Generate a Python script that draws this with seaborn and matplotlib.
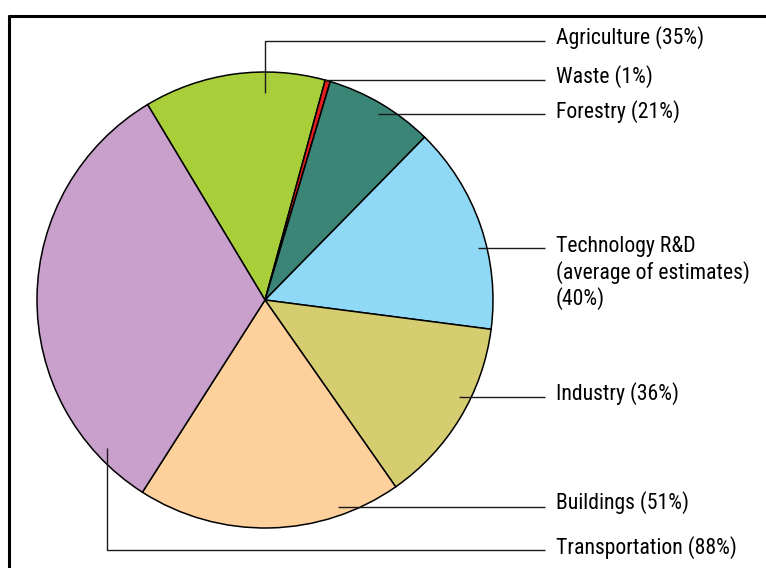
import matplotlib
matplotlib.use("Agg")
import matplotlib.pyplot as plt
import seaborn as sns
import numpy as np

# Funding shares by sector (percent of total estimate)
sectors = ["Agriculture", "Waste", "Forestry", "Technology R&D\n(average of estimates)",
           "Industry", "Buildings", "Transportation"]
shares = [35, 1, 21, 40, 36, 51, 88]
colors = ["#a8cf3a", "#e41e1e", "#3b8577", "#8fd9f6", "#d5cd70", "#fdd09c", "#c8a0cb"]

sns.set_style("white")
plt.rcParams["font.family"] = ["Roboto Condensed", "Archivo Narrow", "DejaVu Sans"]

W, H = 766, 568
fig = plt.figure(figsize=(W / 100, H / 100), dpi=100)
ax = fig.add_axes([0, 0, 1, 1])


def py(y):
    """Convert a top-down pixel row into data y."""
    return H - y


cx, cy, R = 265, py(300), 228
ax.pie(shares, colors=colors, startangle=121, counterclock=False,
       center=(cx, cy), radius=R, frame=True,
       wedgeprops=dict(edgecolor="black", linewidth=1.1))
ax.set_xlim(0, W)
ax.set_ylim(0, H)
ax.set_aspect("auto")
ax.axis("off")

# Leader anchors: angle (deg) and fraction of radius inside each wedge
anchor_angle = [90, 75, 58.7, 13.7, -26.7, -70.6, 223.2]
anchor_frac = [0.91, 0.99, 0.955, 0.96, 0.95, 0.96, 0.95]
line_rows = [41, 80, 114, 248, 397, 507, 550]
text_rows = [38, 77, 112, 273, 394, 503, 548]
line_end_x = 545
text_x = 556

for name, val, ang, frac, ly, ty in zip(sectors, shares, anchor_angle, anchor_frac,
                                        line_rows, text_rows):
    ax0 = cx + frac * R * np.cos(np.radians(ang))
    ay0 = cy + frac * R * np.sin(np.radians(ang))
    if abs(ay0 - py(ly)) > 4:
        xs = [ax0, ax0, line_end_x]
        ys = [ay0, py(ly), py(ly)]
    else:
        xs = [ax0, line_end_x]
        ys = [py(ly), py(ly)]
    ax.plot(xs, ys, color="#1a1a1a", linewidth=1.0, solid_capstyle="butt")
    label = f"{name}\n({val}%)" if "\n" in name else f"{name} ({val}%)"
    ax.text(text_x, py(ty), label, fontsize=15.7, va="center", ha="left",
            color="black", linespacing=1.17)

# Frame lines along the top and left edges
fig.add_artist(plt.Line2D([9 / W, 9 / W], [0, py(16) / H], color="black", lw=2.2,
                          transform=fig.transFigure))
fig.add_artist(plt.Line2D([9 / W, 1], [py(16) / H, py(16) / H], color="black", lw=2.2,
                          transform=fig.transFigure))

fig.savefig("out.png", dpi=100, facecolor="white")
